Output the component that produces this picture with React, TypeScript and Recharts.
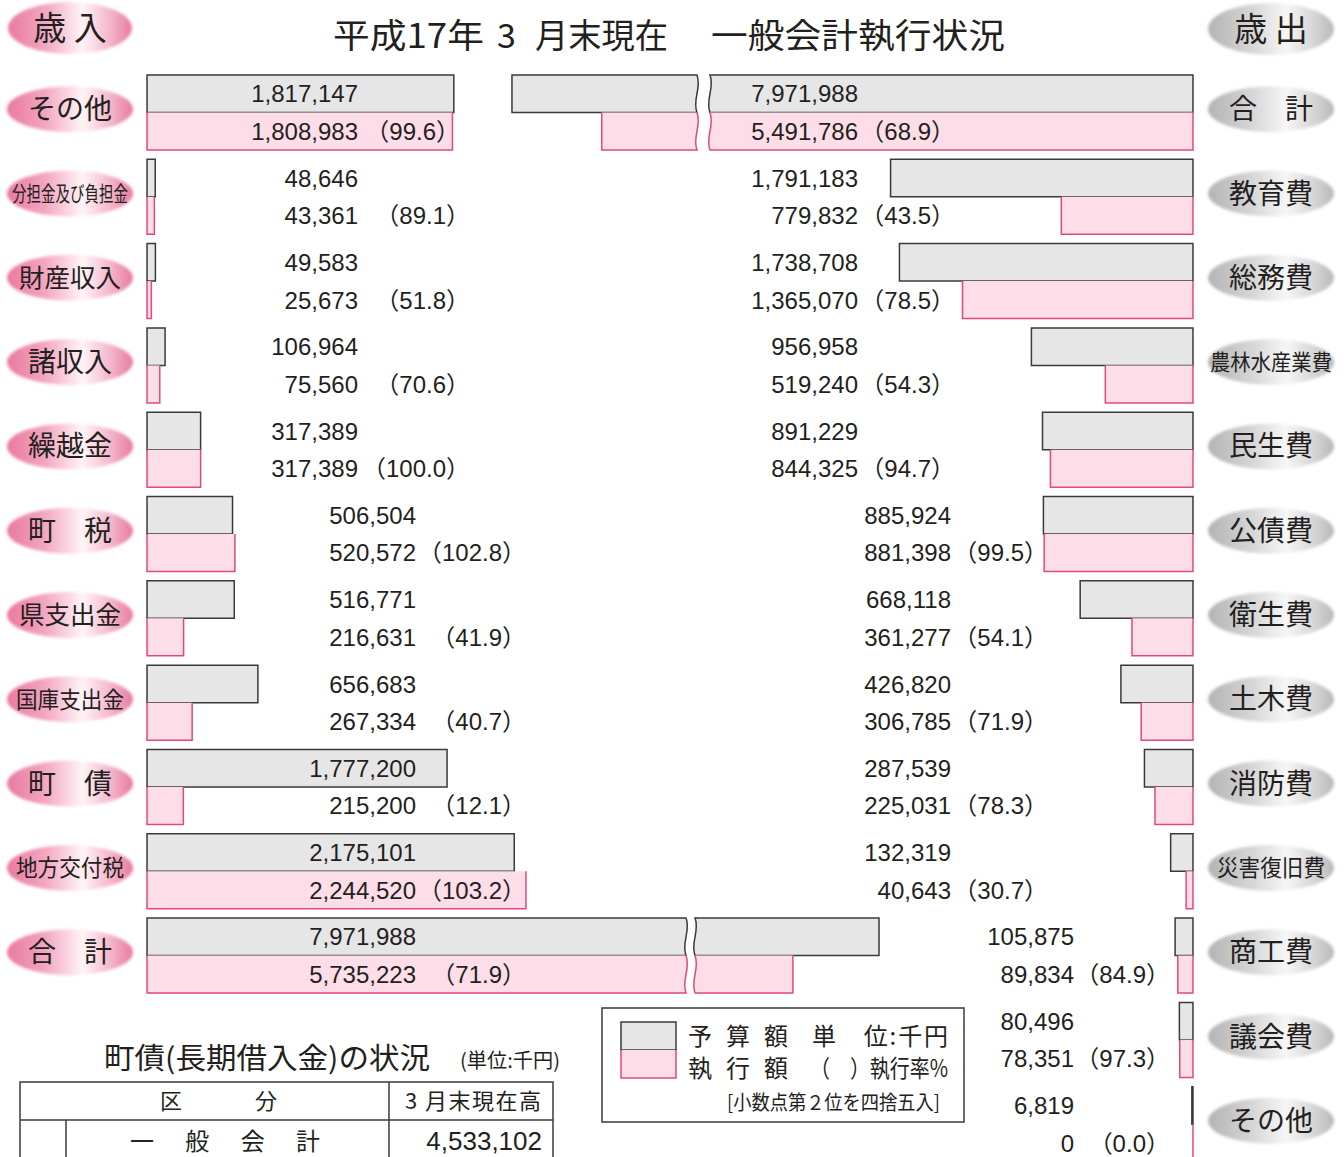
import React from "react";
import { Bar, BarChart, LabelList, XAxis, YAxis } from "recharts";

// 歳入
const revenueNames = ["その他", "分担金及び負担金", "財産収入", "諸収入", "繰越金", "町　税", "県支出金", "国庫支出金", "町　債", "地方交付税", "合　計"];
const revenueBudget = [1817147, 48646, 49583, 106964, 317389, 506504, 516771, 656683, 1777200, 2175101, 7971988];
const revenueSpent = [1808983, 43361, 25673, 75560, 317389, 520572, 216631, 267334, 215200, 2244520, 5735223];
const revenueRate = [99.6, 89.1, 51.8, 70.6, 100.0, 102.8, 41.9, 40.7, 12.1, 103.2, 71.9];

// 歳出
const expenseNames = ["合　計", "教育費", "総務費", "農林水産業費", "民生費", "公債費", "衛生費", "土木費", "消防費", "災害復旧費", "商工費", "議会費", "その他"];
const expenseBudget = [7971988, 1791183, 1738708, 956958, 891229, 885924, 668118, 426820, 287539, 132319, 105875, 80496, 6819];
const expenseSpent = [5491786, 779832, 1365070, 519240, 844325, 881398, 361277, 306785, 225031, 40643, 89834, 78351, 0];
const expenseRate = [68.9, 43.5, 78.5, 54.3, 94.7, 99.5, 54.1, 71.9, 78.3, 30.7, 84.9, 97.3, 0.0];

// 町債
const debtLabels = ["一　般　会　計"];
const debtValues = [4533102];

const W = 1344;
const H = 1157;
const ROWS = 13;
const CHART_H = 1170;
const TOP = 70;
const PLOT_H = 1096;
const PLOT_W = 1015;
const DOMAIN: [number, number] = [-12000, 6000000];

const GRAY_FILL = "#e6e6e6";
const GRAY_LINE = "#3a3a3a";
const PINK_FILL = "#fcdde8";
const PINK_LINE = "#e2487f";
const INK = "#231f20";
const NUM = '"Liberation Sans", "Noto Sans CJK JP", sans-serif';
const JP = '"Noto Sans CJK JP", sans-serif';

const fmt = (n: number) => n.toLocaleString("en-US");

const buildRows = (names: string[], budget: number[], spent: number[], rate: number[]) =>
  Array.from({ length: ROWS }, (_, i) => ({
    name: names[i] ?? "",
    budget: budget[i] ?? null,
    spent: spent[i] ?? null,
    rate: rate[i] ?? null,
  }));

const revRows = buildRows(revenueNames, revenueBudget, revenueSpent, revenueRate);
const expRows = buildRows(expenseNames, expenseBudget, expenseSpent, expenseRate);

const WAVE = 5;
const edgeDown = (X: number, y: number, h: number, wavy: boolean) =>
  wavy ? ` C ${X + WAVE} ${y + h * 0.35} ${X - WAVE} ${y + h * 0.65} ${X} ${y + h}` : ` L ${X} ${y + h}`;
const edgeUp = (X: number, y: number, h: number, wavy: boolean) =>
  wavy ? ` C ${X - WAVE} ${y + h * 0.65} ${X + WAVE} ${y + h * 0.35} ${X} ${y}` : ` L ${X} ${y}`;

// bar with a wavy break when it is too long for the page
function barShape(dir: 1 | -1, brk: number, gap: number, squeeze: number, pink: boolean, key: "budget" | "spent") {
  return (p: any) => {
    const v = p.payload?.[key];
    if (v == null || !Number.isFinite(p.x) || !Number.isFinite(p.width)) return <g />;
    const base = dir === 1 ? (p.width >= 0 ? p.x : p.x + p.width) : p.width < 0 ? p.x : p.x + p.width;
    const len = Math.abs(p.width);
    const segs =
      len > brk
        ? [
            { t0: 0, t1: brk, ws: false, we: true },
            { t0: brk + gap, t1: brk + gap + (len - brk) * squeeze, ws: true, we: false },
          ]
        : [{ t0: 0, t1: len, ws: false, we: false }];
    const y = p.y;
    const h = p.height;
    const X = (t: number) => base + dir * t;
    return (
      <g>
        {segs.map((s, i) => {
          const a = X(s.t0);
          const b = X(s.t1);
          const closed = `M ${a} ${y} L ${b} ${y}` + edgeDown(b, y, h, s.we) + ` L ${a} ${y + h}` + edgeUp(a, y, h, s.ws) + " Z";
          const open = `M ${b} ${y}` + edgeDown(b, y, h, s.we) + ` L ${a} ${y + h}` + edgeUp(a, y, h, s.ws);
          return pink ? (
            <g key={i}>
              <path d={closed} fill={PINK_FILL} stroke="none" />
              <path d={open} fill="none" stroke={PINK_LINE} strokeWidth={1.5} />
            </g>
          ) : (
            <path key={i} d={closed} fill={GRAY_FILL} stroke={GRAY_LINE} strokeWidth={1.5} />
          );
        })}
      </g>
    );
  };
}

type Col = { num: number; pct: number };
const revCols = (i: number): Col => (i === 0 ? { num: 358, pct: 460 } : i < 5 ? { num: 358, pct: 470 } : { num: 416, pct: 526 });
const expCols = (i: number): Col => (i < 5 ? { num: 858, pct: 955 } : i < 10 ? { num: 951, pct: 1048 } : { num: 1074, pct: 1170 });

function makeLabel(rows: any[], cols: (i: number) => Col, key: "budget" | "spent") {
  return (p: any) => {
    const vb = p.viewBox ?? p;
    const idx = Number.isFinite(p.index) ? p.index : Math.floor((vb.y - TOP) / (PLOT_H / ROWS));
    const row = rows[idx];
    const v = row?.[key];
    if (v == null) return null;
    const cy = vb.y + vb.height / 2;
    const c = cols(idx);
    return (
      <g>
        <text x={c.num} y={cy} dy="0.36em" textAnchor="end" fontSize={24} fontFamily={NUM} fill={INK}>
          {fmt(v)}
        </text>
        {key === "spent" && (
          <text x={c.pct} y={cy} dy="0.36em" textAnchor="end" fontSize={24} fontFamily={NUM} fill={INK}>
            {`（${row.rate.toFixed(1)}）`}
          </text>
        )}
      </g>
    );
  };
}

const badgeFont = (name: string) => {
  const n = name.length;
  if (n <= 3) return { fontSize: 28 };
  if (n === 4) return { fontSize: 25.5 };
  if (n === 5) return { fontSize: 23, fit: 108 };
  if (n === 6) return { fontSize: 22, fit: 122 };
  return { fontSize: 21, fit: 116 };
};

function Badge({ cx, cy, rx, ry, text, tone, fontSize, fit }: any) {
  return (
    <g>
      <ellipse cx={cx} cy={cy} rx={rx} ry={ry} fill={`url(#badge-${tone})`} filter="url(#badge-soft)" />
      <text
        x={cx}
        y={cy}
        dy="0.36em"
        textAnchor="middle"
        fontSize={fontSize}
        fontFamily={JP}
        fill={INK}
        {...(fit ? { textLength: fit, lengthAdjust: "spacingAndGlyphs" } : {})}
      >
        {text}
      </text>
    </g>
  );
}

const makeTick = (cx: number, tone: string) => (p: any) => {
  const name = p.payload?.value;
  if (!name) return <g />;
  return <Badge cx={cx} cy={p.y - 3} rx={63} ry={23} text={name} tone={tone} {...badgeFont(name)} />;
};

function Overlay() {
  return (
    <svg width={W} height={H} style={{ position: "absolute", left: 0, top: 0 }}>
      <defs>
        <linearGradient id="badge-pink" x1="0" y1="0" x2="1" y2="0">
          <stop offset="0%" stopColor="#e9799f" />
          <stop offset="30%" stopColor="#f2a6c0" />
          <stop offset="60%" stopColor="#fff4f7" />
          <stop offset="82%" stopColor="#f4b6cb" />
          <stop offset="100%" stopColor="#e77a9f" />
        </linearGradient>
        <linearGradient id="badge-gray" x1="0" y1="0" x2="1" y2="0">
          <stop offset="0%" stopColor="#b3b3b3" />
          <stop offset="35%" stopColor="#d6d6d6" />
          <stop offset="62%" stopColor="#f6f6f6" />
          <stop offset="85%" stopColor="#d4d4d4" />
          <stop offset="100%" stopColor="#b8b8b8" />
        </linearGradient>
        <filter id="badge-soft" x="-10%" y="-20%" width="120%" height="140%">
          <feGaussianBlur stdDeviation="1.6" />
        </filter>
      </defs>

      <Badge cx={70} cy={28} rx={62} ry={26} text="歳 入" tone="pink" fontSize={33} />
      <Badge cx={1271} cy={29} rx={63} ry={26} text="歳 出" tone="gray" fontSize={33} />
      <g fontFamily={JP} fill={INK} fontSize={34}>
        <text x={333} y={48} textLength={151} lengthAdjust="spacingAndGlyphs">平成17年</text>
        <text x={497} y={48}>3</text>
        <text x={535} y={48} textLength={133} lengthAdjust="spacingAndGlyphs">月末現在</text>
        <text x={711} y={48} textLength={294} lengthAdjust="spacingAndGlyphs">一般会計執行状況</text>
      </g>

      {/* legend */}
      <rect x={602} y={1008} width={362} height={114} fill="none" stroke={GRAY_LINE} strokeWidth={1.5} />
      <rect x={621} y={1022} width={55} height={28} fill={GRAY_FILL} stroke={GRAY_LINE} strokeWidth={1.5} />
      <rect x={621} y={1050} width={55} height={28} fill={PINK_FILL} />
      <path d="M 676 1050 L 676 1078 L 621 1078 L 621 1050" fill="none" stroke={PINK_LINE} strokeWidth={1.5} />
      <g fontFamily={JP} fill={INK} fontSize={24}>
        <text x={688} y={1045} textLength={100} lengthAdjust="spacing">予算額</text>
        <text x={812} y={1045} textLength={136} lengthAdjust="spacing">単　位:千円</text>
        <text x={688} y={1077} textLength={100} lengthAdjust="spacing">執行額</text>
        <text x={810} y={1077} textLength={138} lengthAdjust="spacingAndGlyphs">（　）執行率%</text>
        <text x={727} y={1110} fontSize={20} textLength={213} lengthAdjust="spacingAndGlyphs">[小数点第２位を四捨五入]</text>
      </g>

      {/* 町債 table */}
      <g fontFamily={JP} fill={INK}>
        <text x={104} y={1069} fontSize={29} textLength={326} lengthAdjust="spacingAndGlyphs">町債(長期借入金)の状況</text>
        <text x={460} y={1068} fontSize={20} textLength={100} lengthAdjust="spacingAndGlyphs">(単位:千円)</text>
        <rect x={20} y={1082} width={533} height={110} fill="none" stroke={GRAY_LINE} strokeWidth={1.5} />
        <line x1={20} y1={1120} x2={553} y2={1120} stroke={GRAY_LINE} strokeWidth={1.5} />
        <line x1={389} y1={1082} x2={389} y2={1160} stroke={GRAY_LINE} strokeWidth={1.5} />
        <line x1={66} y1={1120} x2={66} y2={1160} stroke={GRAY_LINE} strokeWidth={1.5} />
        <text x={171} y={1109} fontSize={22} textAnchor="middle">区</text>
        <text x={266} y={1109} fontSize={22} textAnchor="middle">分</text>
        <text x={405} y={1109} fontSize={22} textLength={136} lengthAdjust="spacing">3 月末現在高</text>
        {debtLabels.map((l, i) => (
          <g key={l}>
            <text x={130} y={1150 + i * 38} fontSize={24} textLength={190} lengthAdjust="spacing">{l}</text>
            <text x={542} y={1150 + i * 38} fontSize={26} fontFamily={NUM} textAnchor="end">{fmt(debtValues[i])}</text>
          </g>
        ))}
      </g>
    </svg>
  );
}

export default function App() {
  return (
    <div style={{ position: "absolute", left: 0, top: 0, width: W, height: H, overflow: "hidden", background: "#fff" }}>
      <Overlay />
      <div style={{ position: "absolute", left: 0, top: 0 }}>
        <BarChart
          layout="vertical"
          width={W}
          height={CHART_H}
          data={revRows}
          margin={{ top: TOP, bottom: CHART_H - TOP - PLOT_H, left: 0, right: W - 145 - PLOT_W }}
          barGap={0}
          barSize={37.5}
        >
          <XAxis type="number" domain={DOMAIN} allowDataOverflow hide />
          <YAxis type="category" dataKey="name" width={145} axisLine={false} tickLine={false} interval={0} tick={makeTick(70, "pink")} />
          <Bar dataKey="budget" isAnimationActive={false} shape={barShape(1, 539, 9, 0.228, false, "budget")}>
            <LabelList dataKey="budget" content={makeLabel(revRows, revCols, "budget")} />
          </Bar>
          <Bar dataKey="spent" isAnimationActive={false} shape={barShape(1, 539, 9, 0.228, true, "spent")}>
            <LabelList dataKey="spent" content={makeLabel(revRows, revCols, "spent")} />
          </Bar>
        </BarChart>
      </div>
      <div style={{ position: "absolute", left: 0, top: 0 }}>
        <BarChart
          layout="vertical"
          width={W}
          height={CHART_H}
          data={expRows}
          margin={{ top: TOP, bottom: CHART_H - TOP - PLOT_H, left: W - 149 - PLOT_W, right: 0 }}
          barGap={0}
          barSize={37.5}
        >
          <XAxis type="number" domain={DOMAIN} allowDataOverflow reversed hide />
          <YAxis type="category" dataKey="name" orientation="right" width={149} axisLine={false} tickLine={false} interval={0} tick={makeTick(1271, "gray")} />
          <Bar dataKey="budget" isAnimationActive={false} shape={barShape(-1, 483, 13, 0.2144, false, "budget")}>
            <LabelList dataKey="budget" content={makeLabel(expRows, expCols, "budget")} />
          </Bar>
          <Bar dataKey="spent" isAnimationActive={false} shape={barShape(-1, 483, 13, 0.2144, true, "spent")}>
            <LabelList dataKey="spent" content={makeLabel(expRows, expCols, "spent")} />
          </Bar>
        </BarChart>
      </div>
    </div>
  );
}
